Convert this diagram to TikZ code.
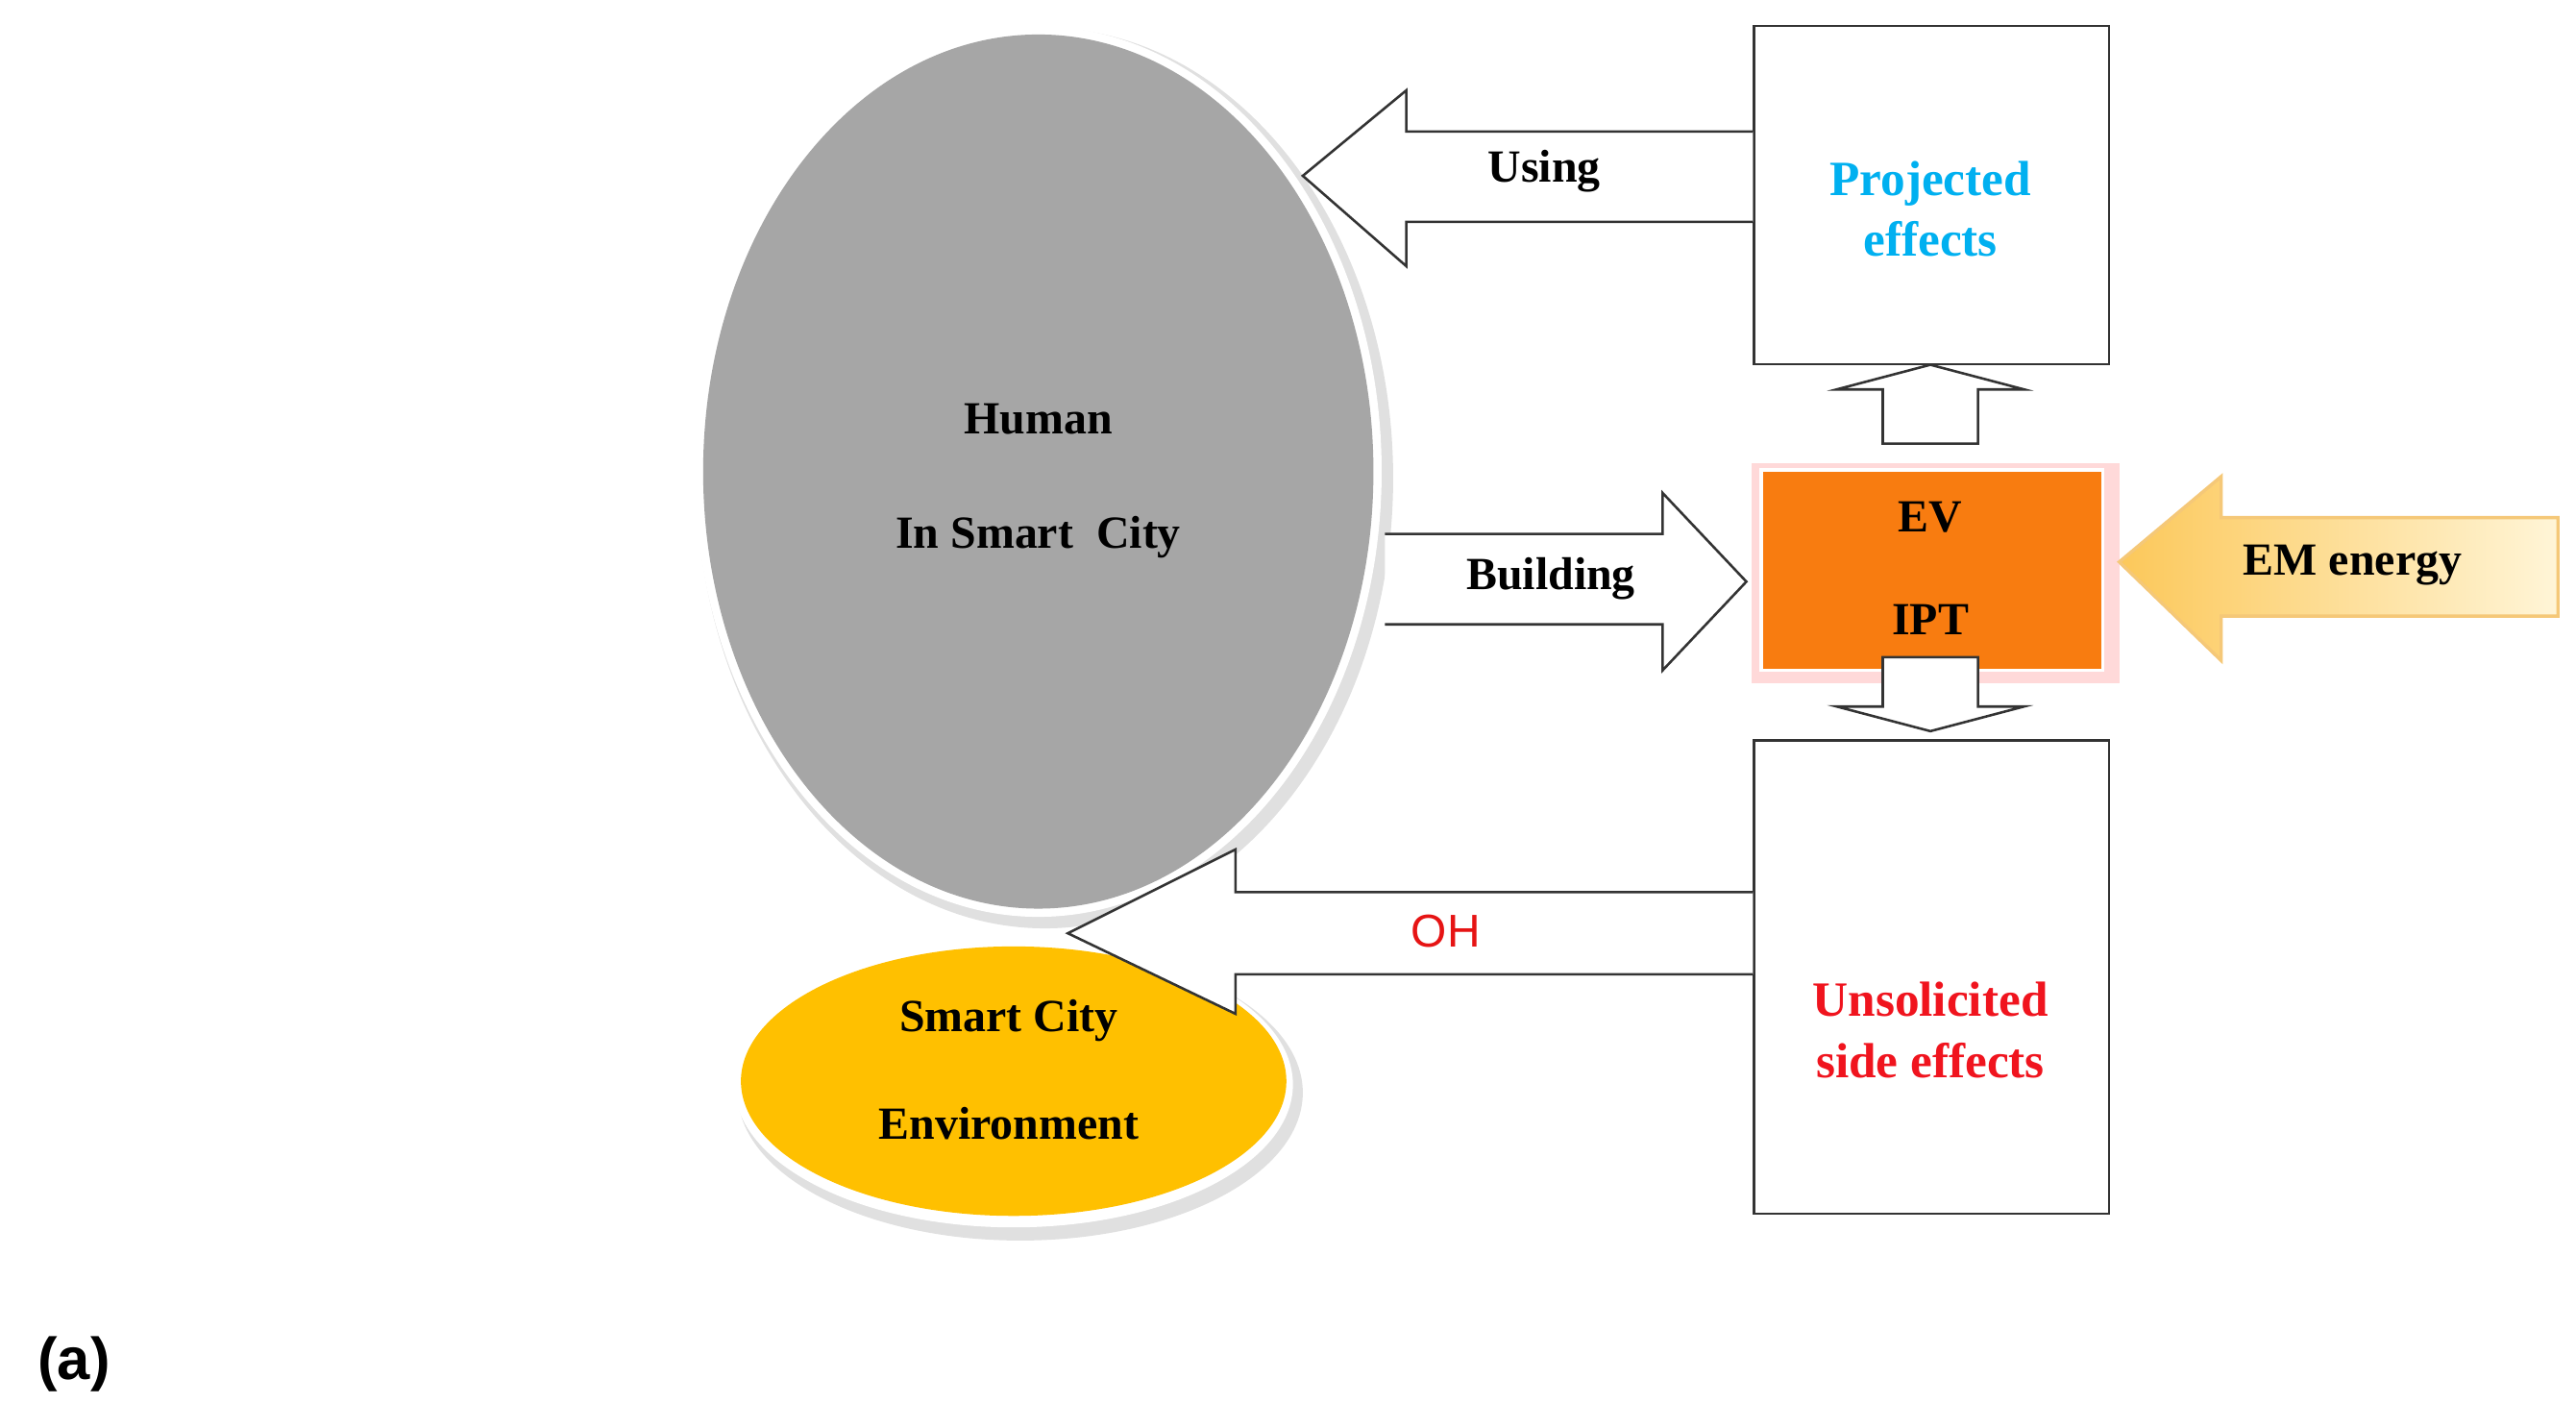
\documentclass[tikz,border=0pt]{standalone}
\usepackage{fontspec}
\setmainfont{Liberation Serif}
\newfontfamily\sans{Liberation Sans}
\begin{document}
\begin{tikzpicture}[x=1pt,y=-1pt,
  box/.style={draw=black!80,line width=1.5pt,fill=white},
  barrow/.style={draw=black!80,line width=1.5pt,fill=white,line join=miter},
  lbl/.style={font=\bfseries\fontsize{28}{34}\selectfont}]
\useasboundingbox (0,0) rectangle (1568,869);
% big ellipse
\fill[black!12] (636,291) ellipse [x radius=212,y radius=274];
\fill[white] (632,287) ellipse [x radius=209,y radius=271];
\fill[gray!70] (632,287) ellipse [x radius=204,y radius=266];
\node[lbl] (human) at (632,255) {Human};
\node[lbl] (isc) at (632,327) {In Smart\ \ City};
% small ellipse
\fill[black!12] (621,665) ellipse [x radius=172,y radius=90];
\fill[white] (617,660) ellipse [x radius=170,y radius=87];
\fill[fill={rgb,255:red,255;green,192;blue,0}] (617,658) ellipse [x radius=166,y radius=82];
\node[lbl] (sc) at (614,621) {Smart City};
\node[lbl] (env) at (614,684) {Environment};
% boxes
\node[box,minimum width=216,minimum height=206,anchor=north west,inner sep=0] (proj) at (1067,15) {};
\node[font=\bfseries\fontsize{30}{37}\selectfont,text={rgb,255:red,0;green,176;blue,240},align=center] (projt) at (1175,127) {Projected\\effects};
\node[box,minimum width=216,minimum height=288,anchor=north west,inner sep=0] (uns) at (1067,450) {};
\node[font=\bfseries\fontsize{30}{37}\selectfont,text={rgb,255:red,240;green,20;blue,30},align=center] (unst) at (1175,627) {Unsolicited\\side effects};
\fill[red!15] (1066,282) rectangle (1290,416);
\node[draw=white,line width=2pt,fill={rgb,255:red,248;green,124;blue,16},minimum width=208,minimum height=122,anchor=north west,inner sep=0] (ev) at (1071,285) {};
\node[lbl] (evt) at (1175,315) {EV};
\node[lbl] (ipt) at (1175,377) {IPT};
% using arrow
\draw[barrow] (1067,80) -- (856,80) -- (856,55) -- (793,107) -- (856,162) -- (856,135) -- (1067,135);
\node[lbl] (using) at (940,104) {Using};
% building arrow
\draw[barrow] (843,325) -- (1012,325) -- (1012,300) -- (1063,354) -- (1012,408) -- (1012,380) -- (843,380);
\node[lbl] (bld) at (944,352) {Building};
% OH arrow
\draw[barrow] (1067,543) -- (752,543) -- (752,517) -- (650,568) -- (752,617) -- (752,593) -- (1067,593);
\node[font=\sans\fontsize{28}{34}\selectfont,text={rgb,255:red,230;green,20;blue,20}] (oh) at (880,567) {OH};
% up arrow
\draw[barrow] (1146,270) -- (1146,237) -- (1118,237) -- (1175,222) -- (1232,237) -- (1204,237) -- (1204,270) -- cycle;
% down arrow
\draw[barrow] (1146,400) -- (1146,430) -- (1118,430) -- (1175,445) -- (1232,430) -- (1204,430) -- (1204,400) -- cycle;
% EM energy arrow
\shade[left color={rgb,255:red,252;green,200;blue,90},right color={rgb,255:red,255;green,245;blue,215},draw={rgb,255:red,245;green,200;blue,120},line width=2pt]
 (1557,315) -- (1352,315) -- (1352,290) -- (1290,342) -- (1352,402) -- (1352,375) -- (1557,375) -- cycle;
\node[lbl] (em) at (1432,344) {EM energy};
\node[font=\sans\bfseries\fontsize{36}{42}\selectfont] (a) at (45,830) {(a)};
\end{tikzpicture}
\end{document}
